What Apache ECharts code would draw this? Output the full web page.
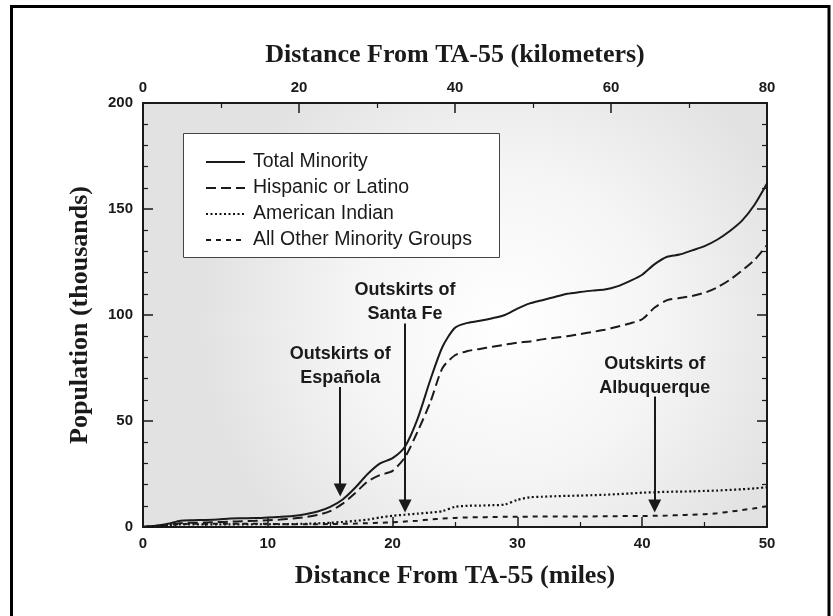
<!DOCTYPE html>
<html>
<head>
<meta charset="utf-8">
<script src="https://cdn.jsdelivr.net/npm/echarts@6/dist/echarts.min.js"></script>
<style>
html,body{margin:0;padding:0;background:#fff;}
#chart{width:833px;height:616px;}
</style>
</head>
<body>
<div id="chart"></div>
<script>
// Distance from TA-55 in miles
var miles = [0,1,2,3,4,5,6,7,8,9,10,11,12,13,14,15,16,17,18,19,20,21,22,23,24,25,26,27,28,29,30,31,32,33,34,35,36,37,38,39,40,41,42,43,44,45,46,47,48,49,50];
// Cumulative population (thousands)
var totalMinority = [0,0.6,1.5,3,3.2,3.3,3.5,4,4.1,4.2,4.5,4.8,5.2,6,7.3,9.5,13,18.5,25,30,32.5,38,51,69,85,94,96.3,97.3,98.5,100,103,105.5,107,108.5,110,110.8,111.5,112,113.5,116,119,124,127.5,128.5,130.5,132.5,135.5,139.5,144.5,152,162];
var hispanicLatino = [0,0.4,1,1.8,2,2.1,2.3,2.5,2.7,2.9,3.2,3.5,4,4.7,5.7,7.5,11,16,21.5,24.5,26.5,33,45,58.5,75,81,83,84,85,86,87,87.5,88.5,89.3,90,91,92,93,94.5,96,98,103.5,107,108,109,110.5,113,116.5,121,126,133];
var americanIndian = [0,0.4,0.8,1.2,1.2,1.2,1.2,1.2,1.2,1.3,1.3,1.3,1.4,1.5,1.7,2,2.4,2.9,3.5,4.5,5.3,5.8,6.3,6.8,7.5,9.5,10,10.1,10.3,10.6,12.8,14,14.3,14.5,14.7,14.8,15,15.2,15.5,15.8,16.2,16.4,16.6,16.7,16.8,17,17.2,17.5,17.8,18.2,18.8];
var otherMinority = [0,0.5,1,1.4,1.5,1.5,1.5,1.5,1.5,1.5,1.5,1.4,1.3,1.3,1.3,1.4,1.5,1.6,1.8,2,2.2,2.6,3,3.5,4,4.3,4.5,4.6,4.7,4.8,4.8,4.9,4.9,5,5,5,5,5.1,5.1,5.2,5.2,5.3,5.4,5.6,5.8,6,6.5,7.2,8,8.8,9.8];
var seriesNames = ['Total Minority','Hispanic or Latino','American Indian','All Other Minority Groups'];

// Annotations (miles, arrow start value, arrowhead value)
var annoLabels = ['Outskirts of\nEspañola','Outskirts of\nSanta Fe','Outskirts of\nAlbuquerque'];
var annoMiles = [15.8, 21, 41];
var annoFrom = [66, 96, 61.5];
var annoTo = [17.5, 9.9, 9.9];

var milesTicks = {min:0, max:50, interval:10};
var kmTicks = {min:0, max:80, interval:20};
var popTicks = {min:0, max:200, interval:50};

function pairs(ys){ return miles.map(function(m,i){ return [m, ys[i]]; }); }

var ink = '#1a1a1a';
var sans = '"Liberation Sans", Arial, sans-serif';
var serif = '"Liberation Serif", "Times New Roman", serif';

var chart = echarts.init(document.getElementById('chart'), null, {renderer:'canvas'});

function axisCommon(extra){
  var base = {
    type:'value',
    axisLine:{show:true, onZero:false, lineStyle:{color:ink, width:2}},
    axisTick:{show:true, inside:true, length:10, lineStyle:{color:ink, width:1.5}},
    minorTick:{show:true, length:5, lineStyle:{color:ink, width:1.2}},
    splitLine:{show:false},
    minorSplitLine:{show:false},
    axisLabel:{color:'#1a1a1a', fontFamily:sans, fontWeight:'bold', fontSize:15},
    nameTextStyle:{color:'#1a1a1a', fontFamily:serif, fontWeight:'bold', fontSize:26}
  };
  for (var k in extra){
    if (typeof extra[k]==='object' && base[k] && !Array.isArray(extra[k])){
      for (var j in extra[k]) base[k][j] = extra[k][j];
    } else base[k] = extra[k];
  }
  return base;
}

var annoData = annoMiles.map(function(m,i){
  return [{coord:[m, annoFrom[i]], name:annoLabels[i]}, {coord:[m, annoTo[i]]}];
});

var lineBase = {type:'line', showSymbol:false, symbol:'none', smooth:0.25, xAxisIndex:0, yAxisIndex:0, z:3};

var option = {
  animation:false,
  backgroundColor:'#ffffff',
  grid:{
    left:143, right:66, top:103, bottom:89, show:true, borderWidth:0,
    backgroundColor:new echarts.graphic.RadialGradient(0.58,0.52,0.72,[
      {offset:0,color:'#ffffff'},{offset:0.5,color:'#f5f5f5'},{offset:1,color:'#e2e2e2'}
    ])
  },
  graphic:[
    {type:'rect', z:100, silent:true, shape:{x:11.5, y:6.5, width:817.5, height:700},
     style:{fill:'none', stroke:'#000', lineWidth:3}},
    {type:'rect', z:50, silent:true, shape:{x:183.5, y:133.5, width:316, height:124},
     style:{fill:'#ffffff', stroke:'#444', lineWidth:1}}
  ],
  legend:{
    z:60, orient:'vertical', left:205, top:152, padding:0,
    itemWidth:39, itemHeight:14, itemGap:6,
    itemStyle:{opacity:0},
    textStyle:{fontFamily:sans, fontSize:19.5, lineHeight:20, color:'#1a1a1a', padding:[0,0,0,3]},
    data:seriesNames
  },
  xAxis:[
    axisCommon({position:'bottom', min:milesTicks.min, max:milesTicks.max, interval:milesTicks.interval,
      minorTick:{splitNumber:2}, axisLabel:{margin:9},
      name:'Distance From TA-55 (miles)', nameLocation:'middle', nameGap:36}),
    axisCommon({position:'top', min:kmTicks.min, max:kmTicks.max, interval:kmTicks.interval,
      minorTick:{splitNumber:2}, axisLabel:{margin:8},
      name:'Distance From TA-55 (kilometers)', nameLocation:'middle', nameGap:35})
  ],
  yAxis:[
    axisCommon({position:'left', min:popTicks.min, max:popTicks.max, interval:popTicks.interval,
      minorTick:{splitNumber:5}, axisLabel:{margin:10},
      name:'Population (thousands)', nameLocation:'middle', nameGap:50, nameRotate:90}),
    axisCommon({position:'right', min:popTicks.min, max:popTicks.max, interval:popTicks.interval,
      minorTick:{splitNumber:5}, axisLabel:{show:false}})
  ],
  series:[
    Object.assign({}, lineBase, {name:seriesNames[0], data:pairs(totalMinority),
      lineStyle:{color:ink, width:2, type:'solid'}, itemStyle:{color:ink},
      markLine:{silent:true, animation:false, symbol:['none','triangle'], symbolSize:13,
        lineStyle:{color:'#1a1a1a', width:2, type:'solid'},
        label:{show:true, position:'start', distance:-3, formatter:'{b}', color:'#1a1a1a',
          fontFamily:sans, fontWeight:'bold', fontSize:18, lineHeight:24},
        emphasis:{disabled:true},
        data:annoData}}),
    Object.assign({}, lineBase, {name:seriesNames[1], data:pairs(hispanicLatino),
      lineStyle:{color:ink, width:2, type:[10,5]}, itemStyle:{color:ink}}),
    Object.assign({}, lineBase, {name:seriesNames[2], data:pairs(americanIndian),
      lineStyle:{color:'#111', width:2.2, type:[2,2.5]}, itemStyle:{color:'#111'}}),
    Object.assign({}, lineBase, {name:seriesNames[3], data:pairs(otherMinority),
      lineStyle:{color:ink, width:2, type:[5,5]}, itemStyle:{color:ink}})
  ]
};
chart.setOption(option);
</script>
</body>
</html>
